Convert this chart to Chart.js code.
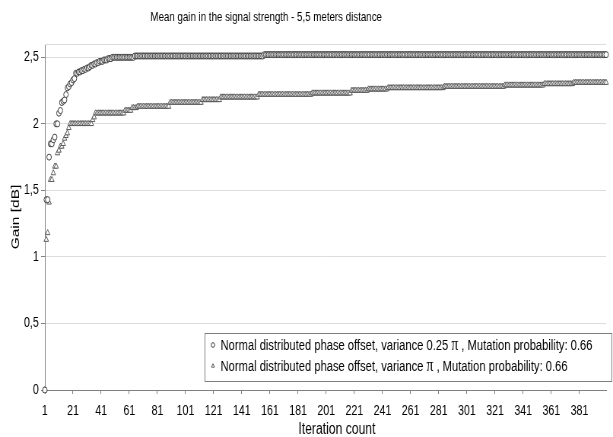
<!DOCTYPE html>
<html>
<head>
<meta charset="utf-8">
<script src="https://cdn.jsdelivr.net/npm/chart.js@4/dist/chart.umd.min.js"></script>
<style>
  html, body { margin: 0; padding: 0; background: #fff; overflow: hidden; }
</style>
</head>
<body>
<!-- backing store is wider than the displayed box: text and markers come out narrow -->
<canvas id="c" width="806" height="437" style="display:block;width:613px;height:437px"></canvas>
<script>
const chartTitle = 'Mean gain in the signal strength - 5,5 meters distance';
const xAxisTitle = 'Iteration count';
const yAxisTitle = 'Gain [dB]';
const seriesLabels = [
  'Normal distributed phase offset, variance 0.25 π , Mutation probability: 0.66',
  'Normal distributed phase offset, variance π , Mutation probability: 0.66'
];
const xTickLabels = ['1','21','41','61','81','101','121','141','161','181','201','221','241','261','281','301','321','341','361','381'];
const yTickValues = [0, 0.5, 1, 1.5, 2, 2.5];

// Mean gain [dB] per iteration, variance 0.25 pi (one row = 20 iterations)
const gainVariance025Pi = [
  0,1.43,1.43,1.75,1.85,1.85,1.88,1.9,2,2,2.08,2.1,2.16,2.17,2.18,2.22,2.27,2.28,2.3,2.31,
  2.33,2.34,2.38,2.38,2.39,2.39,2.4,2.4,2.41,2.41,2.42,2.42,2.43,2.44,2.44,2.45,2.45,2.46,2.46,2.47,
  2.47,2.47,2.48,2.48,2.48,2.49,2.49,2.49,2.5,2.5,2.5,2.5,2.5,2.5,2.5,2.5,2.5,2.5,2.5,2.5,
  2.5,2.5,2.5,2.5,2.51,2.51,2.51,2.51,2.51,2.51,2.51,2.51,2.51,2.51,2.51,2.51,2.51,2.51,2.51,2.51,
  2.51,2.51,2.51,2.51,2.51,2.51,2.51,2.51,2.51,2.51,2.51,2.51,2.51,2.51,2.51,2.51,2.51,2.51,2.51,2.51,
  2.51,2.51,2.51,2.51,2.51,2.51,2.51,2.51,2.51,2.51,2.51,2.51,2.51,2.51,2.51,2.51,2.51,2.51,2.51,2.51,
  2.51,2.51,2.51,2.51,2.51,2.51,2.51,2.51,2.51,2.51,2.51,2.51,2.51,2.51,2.51,2.51,2.51,2.51,2.51,2.51,
  2.51,2.51,2.51,2.51,2.51,2.51,2.51,2.51,2.51,2.51,2.51,2.51,2.51,2.51,2.51,2.51,2.52,2.52,2.52,2.52,
  2.52,2.52,2.52,2.52,2.52,2.52,2.52,2.52,2.52,2.52,2.52,2.52,2.52,2.52,2.52,2.52,2.52,2.52,2.52,2.52,
  2.52,2.52,2.52,2.52,2.52,2.52,2.52,2.52,2.52,2.52,2.52,2.52,2.52,2.52,2.52,2.52,2.52,2.52,2.52,2.52,
  2.52,2.52,2.52,2.52,2.52,2.52,2.52,2.52,2.52,2.52,2.52,2.52,2.52,2.52,2.52,2.52,2.52,2.52,2.52,2.52,
  2.52,2.52,2.52,2.52,2.52,2.52,2.52,2.52,2.52,2.52,2.52,2.52,2.52,2.52,2.52,2.52,2.52,2.52,2.52,2.52,
  2.52,2.52,2.52,2.52,2.52,2.52,2.52,2.52,2.52,2.52,2.52,2.52,2.52,2.52,2.52,2.52,2.52,2.52,2.52,2.52,
  2.52,2.52,2.52,2.52,2.52,2.52,2.52,2.52,2.52,2.52,2.52,2.52,2.52,2.52,2.52,2.52,2.52,2.52,2.52,2.52,
  2.52,2.52,2.52,2.52,2.52,2.52,2.52,2.52,2.52,2.52,2.52,2.52,2.52,2.52,2.52,2.52,2.52,2.52,2.52,2.52,
  2.52,2.52,2.52,2.52,2.52,2.52,2.52,2.52,2.52,2.52,2.52,2.52,2.52,2.52,2.52,2.52,2.52,2.52,2.52,2.52,
  2.52,2.52,2.52,2.52,2.52,2.52,2.52,2.52,2.52,2.52,2.52,2.52,2.52,2.52,2.52,2.52,2.52,2.52,2.52,2.52,
  2.52,2.52,2.52,2.52,2.52,2.52,2.52,2.52,2.52,2.52,2.52,2.52,2.52,2.52,2.52,2.52,2.52,2.52,2.52,2.52,
  2.52,2.52,2.52,2.52,2.52,2.52,2.52,2.52,2.52,2.52,2.52,2.52,2.52,2.52,2.52,2.52,2.52,2.52,2.52,2.52,
  2.52,2.52,2.52,2.52,2.52,2.52,2.52,2.52,2.52,2.52,2.52,2.52,2.52,2.52,2.52,2.52,2.52,2.52,2.52,2.52
];

// Mean gain [dB] per iteration, variance pi (one row = 20 iterations)
const gainVariancePi = [
  0,1.13,1.18,1.41,1.58,1.58,1.63,1.68,1.68,1.78,1.8,1.83,1.83,1.85,1.89,1.91,1.93,1.97,2,2,
  2,2,2,2,2,2,2,2,2,2,2,2,2,2,2.03,2.05,2.08,2.08,2.08,2.08,
  2.08,2.08,2.08,2.08,2.08,2.08,2.08,2.08,2.08,2.08,2.08,2.08,2.08,2.08,2.08,2.08,2.08,2.1,2.1,2.1,
  2.1,2.1,2.12,2.12,2.12,2.12,2.13,2.13,2.13,2.13,2.13,2.13,2.13,2.13,2.13,2.13,2.13,2.13,2.13,2.13,
  2.13,2.13,2.13,2.13,2.13,2.13,2.13,2.13,2.13,2.16,2.16,2.16,2.16,2.16,2.16,2.16,2.16,2.16,2.16,2.16,
  2.16,2.16,2.16,2.16,2.16,2.16,2.16,2.16,2.16,2.16,2.16,2.16,2.18,2.18,2.18,2.18,2.18,2.18,2.18,2.18,
  2.18,2.18,2.18,2.18,2.18,2.2,2.2,2.2,2.2,2.2,2.2,2.2,2.2,2.2,2.2,2.2,2.2,2.2,2.2,2.2,
  2.2,2.2,2.2,2.2,2.2,2.2,2.2,2.2,2.2,2.2,2.2,2.2,2.22,2.22,2.22,2.22,2.22,2.22,2.22,2.22,
  2.22,2.22,2.22,2.22,2.22,2.22,2.22,2.22,2.22,2.22,2.22,2.22,2.22,2.22,2.22,2.22,2.22,2.22,2.22,2.22,
  2.22,2.22,2.22,2.22,2.22,2.22,2.22,2.22,2.22,2.22,2.23,2.23,2.23,2.23,2.23,2.23,2.23,2.23,2.23,2.23,
  2.23,2.23,2.23,2.23,2.23,2.23,2.23,2.23,2.23,2.23,2.23,2.23,2.23,2.23,2.23,2.23,2.23,2.23,2.25,2.25,
  2.25,2.25,2.25,2.25,2.25,2.25,2.25,2.25,2.25,2.25,2.26,2.26,2.26,2.26,2.26,2.26,2.26,2.26,2.26,2.26,
  2.26,2.26,2.26,2.26,2.27,2.27,2.27,2.27,2.27,2.27,2.27,2.27,2.27,2.27,2.27,2.27,2.27,2.27,2.27,2.27,
  2.27,2.27,2.27,2.27,2.27,2.27,2.27,2.27,2.27,2.27,2.27,2.27,2.27,2.27,2.27,2.27,2.27,2.27,2.27,2.27,
  2.27,2.27,2.27,2.27,2.28,2.28,2.28,2.28,2.28,2.28,2.28,2.28,2.28,2.28,2.28,2.28,2.28,2.28,2.28,2.28,
  2.28,2.28,2.28,2.28,2.28,2.28,2.28,2.28,2.28,2.28,2.28,2.28,2.28,2.28,2.28,2.28,2.28,2.28,2.28,2.28,
  2.28,2.28,2.28,2.28,2.28,2.28,2.28,2.29,2.29,2.29,2.29,2.29,2.29,2.29,2.29,2.29,2.29,2.29,2.29,2.29,
  2.29,2.29,2.29,2.29,2.29,2.29,2.29,2.29,2.29,2.29,2.29,2.29,2.29,2.29,2.29,2.3,2.3,2.3,2.3,2.3,
  2.3,2.3,2.3,2.3,2.3,2.3,2.3,2.3,2.3,2.3,2.3,2.3,2.3,2.3,2.3,2.3,2.31,2.31,2.31,2.31,
  2.31,2.31,2.31,2.31,2.31,2.31,2.31,2.31,2.31,2.31,2.31,2.31,2.31,2.31,2.31,2.31,2.31,2.31,2.31,2.31
];

const iterations = gainVariance025Pi.map((_, i) => String(i + 1));

const FONT = "'Liberation Sans', Arial, Helvetica, sans-serif";
const SERIF = "'Liberation Serif', 'Times New Roman', serif";
const markerStyles = [
  { pointStyle: 'circle', radius: 3, color: '#3c3c3c' },
  { pointStyle: 'triangle', radius: 3.4, color: '#5a5a5a' }
];

function drawMarker(ctx, style, x, y, r) {
  ctx.beginPath();
  if (style.pointStyle === 'circle') {
    ctx.arc(x, y, r, 0, Math.PI * 2);
  } else {
    const h = r * 1.5, w = r * Math.sqrt(3) / 2;
    ctx.moveTo(x, y - r);
    ctx.lineTo(x + w, y - r + h);
    ctx.lineTo(x - w, y - r + h);
    ctx.closePath();
  }
  ctx.fillStyle = '#fff';
  ctx.fill();
  ctx.strokeStyle = style.color;
  ctx.lineWidth = 1;
  ctx.stroke();
}

// label text with the pi glyph set in a serif face
function drawLabel(ctx, text, x, y) {
  const parts = text.split('π');
  ctx.fillStyle = '#000';
  ctx.textAlign = 'left';
  ctx.textBaseline = 'alphabetic';
  parts.forEach((p, k) => {
    ctx.font = `14.7px ${FONT}`;
    ctx.fillText(p, x, y);
    x += ctx.measureText(p).width;
    if (k < parts.length - 1) {
      ctx.font = `18px ${SERIF}`;
      ctx.fillText('π', x, y);
      x += ctx.measureText('π').width;
    }
  });
}

const decorations = {
  id: 'decorations',
  beforeDatasetsDraw(chart) {
    const { ctx, chartArea: a } = chart;
    ctx.save();
    ctx.strokeStyle = '#dcdcdc';
    ctx.lineWidth = 1;
    ctx.beginPath();
    ctx.moveTo(a.left, Math.round(a.top) + 0.5);
    ctx.lineTo(a.right, Math.round(a.top) + 0.5);
    ctx.stroke();
    ctx.restore();
  },
  afterDraw(chart) {
    const { ctx } = chart;
    ctx.save();
    ctx.fillStyle = '#000';
    ctx.textBaseline = 'alphabetic';
    ctx.textAlign = 'center';
    ctx.font = `12.8px ${FONT}`;
    ctx.fillText(chartTitle, 350, 21);
    ctx.font = `16px ${FONT}`;
    ctx.fillText(xAxisTitle, 443, 434);

    // legend box
    const bx = 269.5, by = 333.5, bw = 535, bh = 48;
    ctx.fillStyle = '#fff';
    ctx.fillRect(bx, by, bw, bh);
    ctx.strokeStyle = '#7f7f7f';
    ctx.lineWidth = 1;
    ctx.strokeRect(bx, by, bw, bh);
    const rows = [350, 371];
    seriesLabels.forEach((lbl, k) => {
      drawMarker(ctx, markerStyles[k], 280, rows[k] - 5, 2.3);
      drawLabel(ctx, lbl, 290, rows[k]);
    });
    ctx.restore();
  }
};

new Chart(document.getElementById('c'), {
  type: 'line',
  data: {
    labels: iterations,
    datasets: [gainVariance025Pi, gainVariancePi].map((d, k) => ({
      label: seriesLabels[k],
      data: d,
      showLine: false,
      clip: false,
      pointStyle: markerStyles[k].pointStyle,
      pointRadius: markerStyles[k].radius,
      pointBorderWidth: 1,
      pointBorderColor: markerStyles[k].color,
      pointBackgroundColor: '#ffffff'
    }))
  },
  options: {
    responsive: false,
    animation: false,
    devicePixelRatio: 1,
    events: [],
    layout: { padding: { top: 44, right: 4, left: 0, bottom: 0 } },
    plugins: {
      legend: { display: false },
      title: { display: false },
      tooltip: { enabled: false }
    },
    scales: {
      x: {
        type: 'category',
        offset: false,
        grid: {
          drawOnChartArea: false,
          drawTicks: true,
          tickLength: 4,
          tickColor: c => xTickLabels.includes(iterations[c.index]) ? '#808080' : 'rgba(0,0,0,0)'
        },
        border: { display: true, color: '#808080', width: 1 },
        ticks: {
          autoSkip: false,
          maxRotation: 0,
          minRotation: 0,
          padding: 9,
          color: '#000',
          font: { family: FONT, size: 14 },
          callback: (v, i) => xTickLabels.includes(iterations[i]) ? iterations[i] : ''
        },
        afterFit: s => { s.height = 47; }
      },
      y: {
        min: 0,
        max: 2.6,
        afterBuildTicks: s => { s.ticks = yTickValues.map(v => ({ value: v })); },
        grid: { color: '#dcdcdc', tickColor: '#808080', tickLength: 5, drawTicks: true },
        border: { display: true, color: '#808080', width: 1 },
        ticks: {
          padding: 3,
          color: '#000',
          font: { family: FONT, size: 14 },
          callback: v => String(v).replace('.', ',')
        },
        title: {
          display: true,
          text: yAxisTitle,
          color: '#000',
          font: { family: FONT, size: 15.5 },
          padding: { top: 11, bottom: 0 }
        },
        afterFit: s => { s.width = 59; }
      }
    }
  },
  plugins: [decorations]
});
</script>
</body>
</html>
